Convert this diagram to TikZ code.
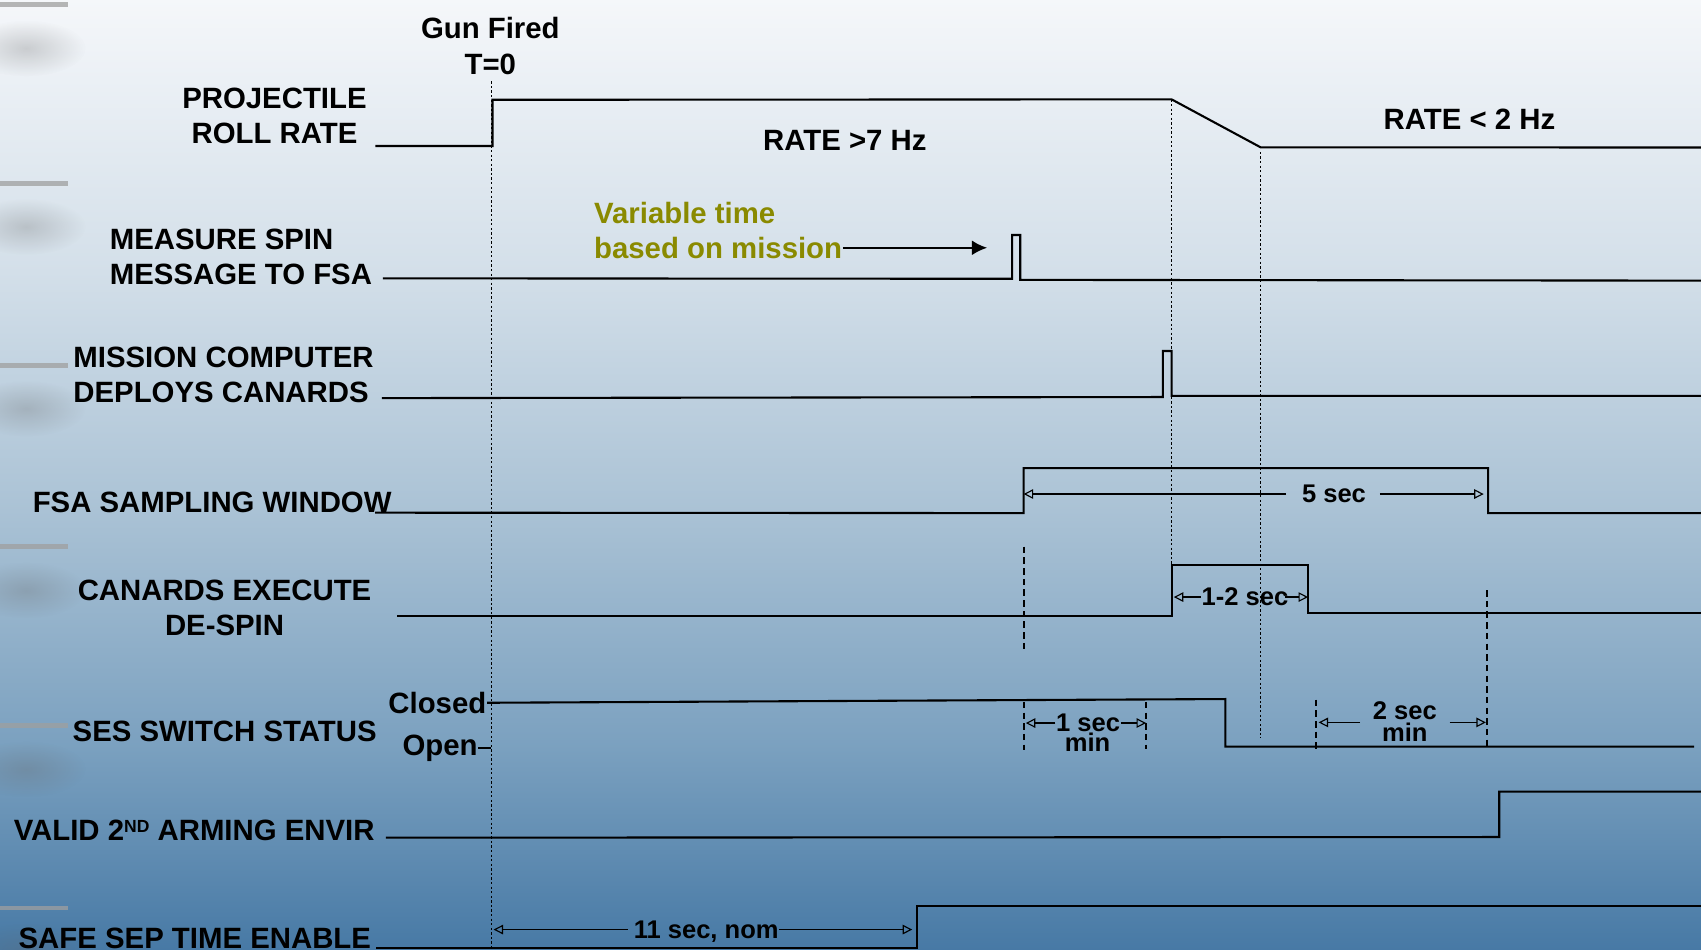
\documentclass[tikz,border=0pt]{standalone}
\usepackage{fontspec}
\setmainfont{Liberation Sans}
\usetikzlibrary{arrows.meta,calc,fadings}
\definecolor{bgA}{HTML}{F5F7FA}
\definecolor{bgB}{HTML}{D3DFE9}
\definecolor{bgC}{HTML}{AAC2D5}
\definecolor{bgD}{HTML}{7AA0BF}
\definecolor{bgE}{HTML}{4779A5}
\definecolor{olivetxt}{HTML}{8A8A00}
\tikzfading[name=smudge,inner color=transparent!10,outer color=transparent!100]
\newcommand{\ndsup}{\raisebox{2.1pt}{\fontsize{4.6}{5}\selectfont ND}}
\begin{document}
\begin{tikzpicture}[x=0.1mm,y=-0.1mm,>=Latex,
  every node/.style={inner sep=0pt,font=\fontsize{7.7}{9.2}\selectfont\bfseries},
  dimtxt/.style={font=\fontsize{6.7}{6}\selectfont\bfseries},
  sig/.style={line width=0.55pt},
  tdot/.style={line width=0.3pt,dash pattern=on 0.6pt off 0.6pt},
  tdash/.style={line width=0.5pt,dash pattern=on 1.7pt off 1.1pt},
  dim/.style={line width=0.3pt,-{Triangle[open,length=2.5pt,width=2.5pt]}}]
\useasboundingbox (0,0) rectangle (1568,875);
\clip (0,0) rectangle (1568,875);
% slide background
\shade[top color=bgA,bottom color=bgB] (0,-1) rectangle (1568,251);
\shade[top color=bgB,bottom color=bgC] (0,250) rectangle (1568,471);
\shade[top color=bgC,bottom color=bgD] (0,470) rectangle (1568,691);
\shade[top color=bgD,bottom color=bgE] (0,690) rectangle (1568,876);
\foreach \y in {4.5,169,336.5,504,669,837}{
  \fill[black!60,opacity=.3,path fading=smudge] (24,\y+40) ellipse (55 and 26);
  \draw[line width=1.3pt,gray!75,opacity=.75] (0,\y) -- (63,\y);}
% time marks
\coordinate (t0) at (453,0); \coordinate (tB) at (943.6,0); \coordinate (tC) at (1080,0);
\coordinate (tD) at (1205.8,0); \coordinate (tF) at (1371.7,0); \coordinate (tH) at (844.9,0);
\coordinate (t1) at (1056.5,0); \coordinate (t2) at (1213.5,0); \coordinate (vtip) at (910,0);
\draw[tdot] (453,75) -- (453,875);
\draw[tdot] (1080,91.6) -- (1080,520.8);
\draw[tdot] (1162,140) -- (1162,680);
\draw[tdash] (943.6,504) -- (943.6,601); \draw[tdash] (943.6,647) -- (943.6,691);
\draw[tdash] (1056.5,647) -- (1056.5,690); \draw[tdash] (1213.5,645) -- (1213.5,690);
\draw[tdash] (1371,544) -- (1371,688);
% waveforms
\draw[sig] (346,134.6) -- (454,134.6) -- (454,92) -- (1080,91.6) -- (1162,135.8) -- (1568,136);
\draw[sig] (353,256.6) -- (933,257) -- (933,216.6) -- (940.5,216.6) -- (940.5,258) -- (1568,258.7);
\draw[sig] (352,367) -- (1072,366) -- (1072,323.6) -- (1080,323.6) -- (1080,365) -- (1568,365);
\draw[sig] (345.7,472.6) -- (943.6,473) -- (943.6,431.5) -- (1371.7,431.5) -- (1371.7,473) -- (1568,473);
\draw[sig] (366,567.5) -- (1080,567.5) -- (1080,520.8) -- (1205.8,520.8) -- (1205.8,565) -- (1568,565);
\draw[sig] (355.6,772.2) -- (1382,771.6) -- (1382,729.8) -- (1568,729.8);
\draw[sig] (346.8,874) -- (844.9,874) -- (844.9,835.2) -- (1568,835.2);
% labels
\node[align=center,anchor=north,font=\fontsize{7.7}{9.4}\selectfont\bfseries] (gun) at (452,15.4) {Gun Fired\\T=0};
\node[align=center,anchor=north] (roll) at (253,80.5) {PROJECTILE\\ROLL RATE};
\node[align=left,anchor=north west] (spin) at (100.6,210.5) {MEASURE SPIN\\MESSAGE TO FSA};
\node[align=left,anchor=north west] (mc) at (67,319) {MISSION COMPUTER\\DEPLOYS CANARDS};
\node[anchor=base west] (fsa) at (29.5,472.5) {FSA SAMPLING WINDOW};
\node[align=center,anchor=north] (cex) at (207,534) {CANARDS EXECUTE\\DE-SPIN};
\node[anchor=base west] (ses) at (66.3,683.7) {SES SWITCH STATUS};
\node[anchor=base east] (closed) at (449,657.5) {Closed};
\node[anchor=base east] (open) at (441,696) {Open};
\node[anchor=base west] (valid) at (12,774.4) {VALID 2\ndsup\ ARMING ENVIR};
\node[anchor=base west] (safe) at (16.5,874) {SAFE SEP TIME ENABLE};
\node[anchor=base west] (fast) at (702.8,139.2) {RATE >7 Hz};
\node[anchor=base west] (slow) at (1274.8,119.2) {RATE < 2 Hz};
\node[anchor=base west,text=olivetxt] (var1) at (547,205.9) {Variable time};
\node[anchor=base west,text=olivetxt] (var2) at (547,238.1) {based on mission};
\draw[sig] (closed.east) -- (1129.5,644.4) -- (1129.5,688.3) -- (1561.6,688.3);
\draw[sig] (open.east) -- (open.east -| t0);
\draw[line width=0.55pt,-{Latex[length=4pt,width=3.9pt]}] (var2.east) -- (var2.east -| vtip);
% durations
\node[dimtxt,anchor=base] (sec5) at (1229.7,463.4) {5 sec};
\node[dimtxt,anchor=base] (sec12) at (1147.6,558.5) {1-2 sec};
\node[dimtxt,anchor=base] (sec1) at (1003,674.5) {1 sec};
\node[dimtxt,anchor=base] (min1) at (1002.5,693) {min};
\node[dimtxt,anchor=base] (sec2) at (1295,663.7) {2 sec};
\node[dimtxt,anchor=base] (min2) at (1295,683.7) {min};
\node[dimtxt,anchor=base,text depth=0pt] (nom) at (651,865) {11 sec, nom};
\draw[dim] ($(sec5.west)+(-14,0)$) -- (sec5.west -| tB);
\draw[dim] ($(sec5.east)+(12,0)$) -- ($(sec5.east -| tF)+(-4,0)$);
\draw[dim] (sec12.west) -- ($(sec12.west -| tC)+(2,0)$);
\draw[dim] ($(sec12.east)+(-4,0)$) -- (sec12.east -| tD);
\draw[dim] (sec1.west) -- ($(sec1.west -| tB)+(2,0)$);
\draw[dim] (sec1.east) -- (sec1.east -| t1);
\draw[dim] ($(sec2.west |- min2.north)+(-11,0)$) -- ($(t2 |- min2.north)+(2,0)$);
\draw[dim] ($(sec2.east |- min2.north)+(11,0)$) -- ($(tF |- min2.north)+(-2,0)$);
\draw[dim] ($(nom.west)+(-5,0)$) -- ($(nom.west -| t0)+(2,0)$);
\draw[dim] (nom.east) -- ($(nom.east -| tH)+(-4,0)$);
\end{tikzpicture}
\end{document}
